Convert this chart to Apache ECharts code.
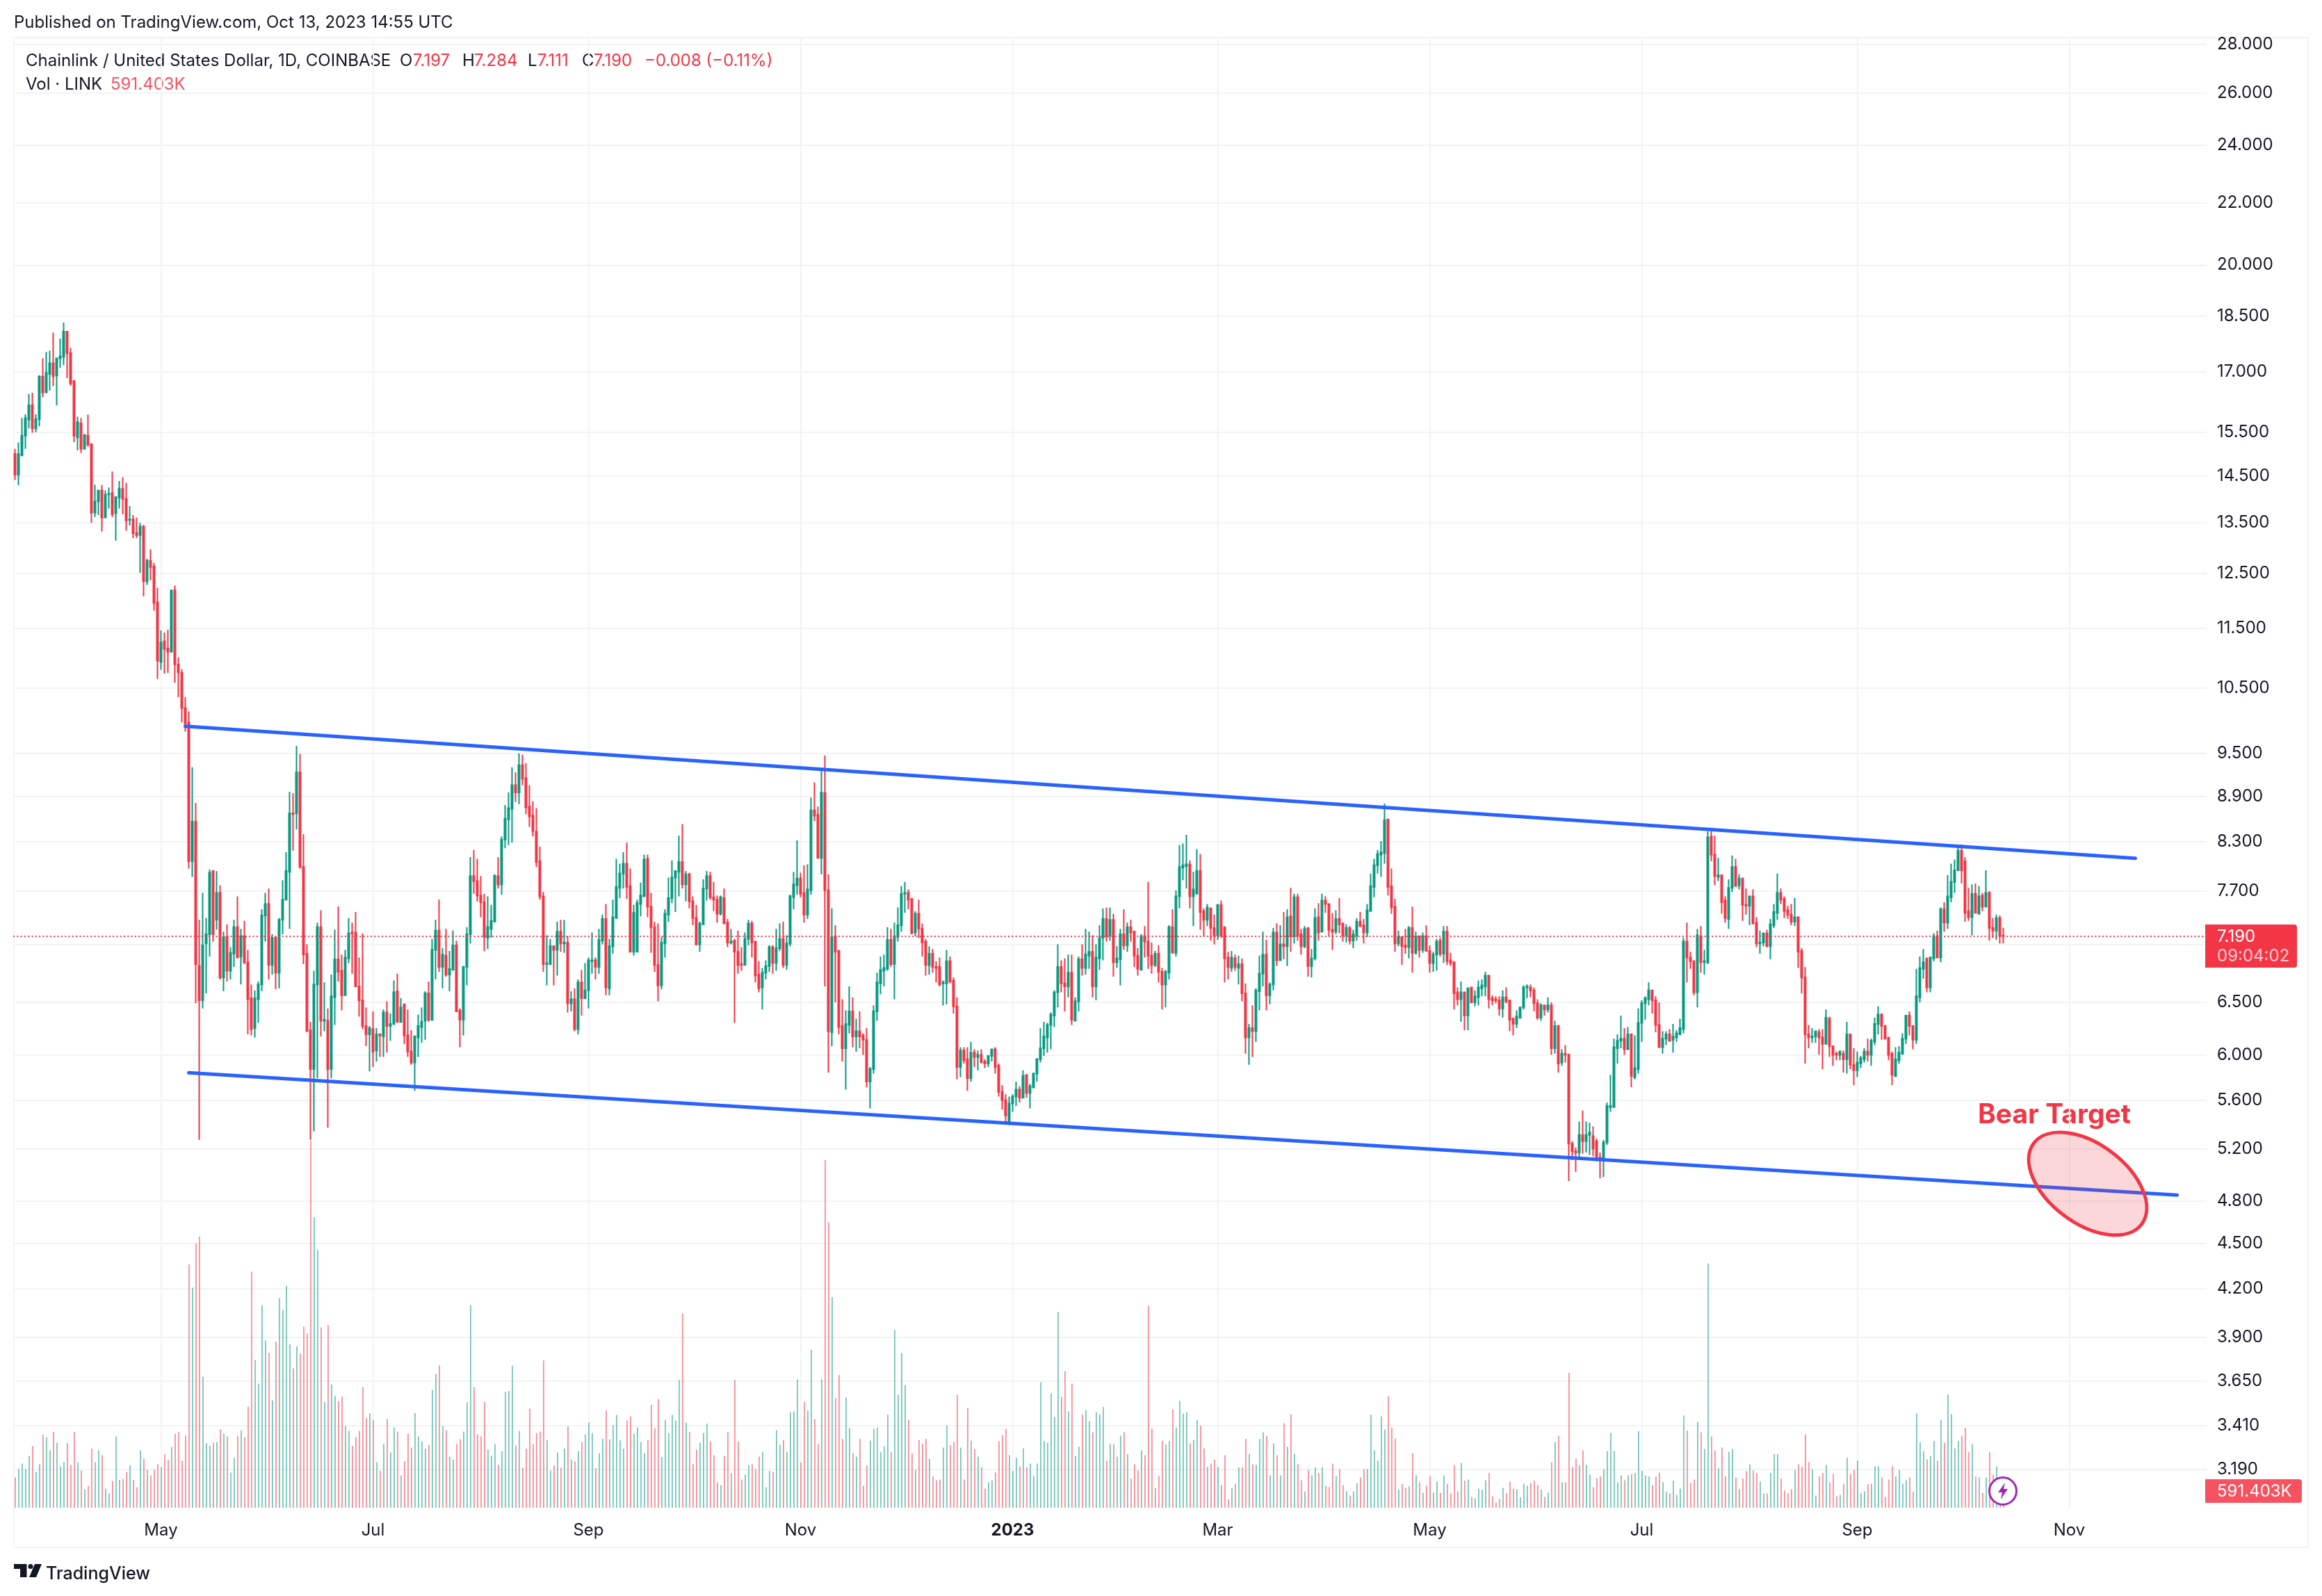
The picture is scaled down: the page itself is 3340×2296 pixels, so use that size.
<!DOCTYPE html>
<html>
<head>
<meta charset="utf-8">
<title>LINK/USD</title>
<script src="https://cdn.jsdelivr.net/npm/echarts@6/dist/echarts.min.js"></script>
<style>
  html, body { margin: 0; padding: 0; background: #fff; }
  #chart { width: 3340px; height: 2296px; }
</style>
</head>
<body>
<div id="chart"></div>
<script>
// daily candles from 2022-03-20 to 2023-10-13: [open, close, low, high]
const candles = [
[14.99,14.53,14.41,15.11],[14.53,14.99,14.30,15.26],[14.96,15.42,14.96,15.84],[15.42,15.84,15.11,15.93],[15.80,16.15,15.59,16.43],[16.15,15.59,15.49,16.46],[15.59,15.81,15.50,15.93],[15.81,16.87,15.64,16.91],
[16.87,16.47,16.35,17.35],[16.47,16.97,16.47,17.52],[16.94,17.22,16.52,17.55],[17.22,16.88,16.63,18.04],[16.90,17.35,16.15,17.35],[17.35,17.40,17.10,17.88],[17.39,18.07,17.17,18.32],[18.07,17.48,16.83,18.08],
[17.49,16.70,16.64,17.63],[16.76,15.42,15.27,16.77],[15.38,15.74,15.08,15.87],[15.71,15.11,15.02,15.84],[15.11,15.43,15.10,15.46],[15.42,15.21,15.16,15.92],[15.22,13.71,13.50,15.24],[13.71,13.95,13.62,14.31],
[13.95,14.18,13.66,14.20],[14.18,13.61,13.32,14.30],[13.61,14.09,13.60,14.18],[14.10,14.11,13.80,14.25],[14.13,13.68,13.62,14.60],[13.70,14.04,13.14,14.06],[14.03,14.22,13.80,14.39],[14.22,14.00,13.68,14.47],
[14.00,13.55,13.34,14.35],[13.56,13.57,13.44,13.85],[13.57,13.29,13.19,13.66],[13.29,13.25,13.19,13.61],[13.25,13.42,12.51,13.50],[13.42,12.35,12.07,13.46],[12.35,12.74,12.28,12.78],[12.74,12.62,12.37,12.97],
[12.63,11.95,11.81,12.70],[11.96,10.94,10.64,12.23],[10.92,11.25,10.79,11.46],[11.27,11.14,10.73,11.42],[11.15,11.09,10.74,11.47],[11.09,12.18,11.09,12.19],[12.18,10.88,10.58,12.27],[10.88,10.75,10.35,11.00],
[10.74,10.18,9.96,10.80],[10.18,9.94,9.82,10.35],[9.96,8.06,7.97,10.13],[8.06,8.56,7.87,9.30],[8.56,6.89,6.49,8.81],[6.87,6.52,5.27,7.37],[6.52,7.09,6.44,7.68],[7.11,7.21,6.59,7.39],
[7.21,7.92,6.97,7.96],[7.94,7.21,7.13,7.94],[7.37,7.68,7.26,7.94],[7.68,6.75,6.73,7.77],[6.75,7.18,6.61,7.24],[7.18,6.82,6.71,7.32],[6.82,7.01,6.73,7.07],[7.00,7.29,6.86,7.37],
[7.29,6.96,6.95,7.64],[6.97,7.19,6.68,7.27],[7.19,6.91,6.89,7.36],[6.91,6.53,6.19,7.04],[6.54,6.24,6.18,6.68],[6.25,6.54,6.16,6.62],[6.53,6.68,6.30,6.71],[6.68,7.42,6.61,7.49],
[7.42,7.55,7.13,7.68],[7.55,6.88,6.73,7.73],[6.88,7.17,6.78,7.21],[7.17,6.80,6.63,7.19],[6.80,7.37,6.64,7.39],[7.37,7.60,7.21,7.83],[7.60,7.94,7.59,8.17],[7.93,8.67,7.27,8.96],
[8.67,8.66,8.19,8.94],[8.67,9.23,8.46,9.61],[9.23,7.99,7.97,9.49],[7.99,6.99,6.89,8.40],[7.00,6.22,6.22,7.10],[6.23,5.87,5.27,6.31],[5.87,6.68,5.34,6.82],[6.68,7.29,5.79,7.34],
[7.29,6.32,6.17,7.48],[6.32,6.33,6.22,6.70],[6.32,5.87,5.37,6.44],[5.87,6.56,5.79,6.78],[6.55,6.94,6.28,7.26],[6.94,6.81,6.71,7.52],[6.82,6.57,6.42,6.99],[6.57,6.96,6.57,7.04],
[6.95,7.22,6.90,7.39],[7.23,7.22,6.79,7.34],[7.23,6.66,6.66,7.46],[6.66,6.52,6.36,6.96],[6.52,6.27,6.24,7.22],[6.27,6.19,6.08,6.45],[6.19,6.25,5.85,6.27],[6.24,6.03,5.89,6.41],
[6.04,6.19,5.94,6.25],[6.19,6.18,5.98,6.20],[6.17,6.40,5.98,6.43],[6.40,6.27,6.02,6.51],[6.27,6.29,6.13,6.39],[6.29,6.60,6.28,6.72],[6.61,6.31,6.30,6.79],[6.31,6.45,6.30,6.54],
[6.48,6.18,6.10,6.48],[6.18,6.03,5.98,6.43],[6.03,5.93,5.91,6.23],[5.93,6.17,5.68,6.18],[6.16,6.27,5.98,6.38],[6.26,6.31,6.11,6.45],[6.32,6.59,6.14,6.61],[6.59,6.33,6.31,6.71],
[6.33,7.04,6.32,7.16],[7.04,7.25,6.73,7.37],[7.25,6.86,6.81,7.60],[6.86,6.99,6.64,7.06],[6.98,6.78,6.76,7.27],[6.78,6.84,6.61,7.03],[6.83,7.09,6.83,7.25],[7.09,6.41,6.41,7.14],
[6.42,6.33,6.07,6.44],[6.33,6.86,6.18,6.87],[6.86,7.21,6.67,7.29],[7.21,7.88,7.11,8.11],[7.88,7.82,7.67,8.20],[7.82,7.65,7.58,8.09],[7.65,7.57,7.40,7.88],[7.57,7.18,7.03,7.67],
[7.17,7.29,7.05,7.64],[7.27,7.36,7.17,7.54],[7.35,7.88,7.35,7.90],[7.88,7.78,7.73,8.11],[7.78,8.33,7.66,8.37],[8.33,8.60,8.22,8.78],[8.59,8.74,8.26,8.95],[8.73,9.05,8.29,9.30],
[9.05,8.95,8.82,9.23],[8.95,9.33,8.79,9.50],[9.33,9.14,9.05,9.48],[9.15,8.75,8.66,9.36],[8.76,8.63,8.49,9.05],[8.64,8.44,8.37,8.83],[8.43,8.05,7.99,8.74],[8.06,7.64,7.60,8.24],
[7.64,6.89,6.81,7.69],[6.89,6.90,6.67,7.20],[6.89,7.08,6.88,7.16],[7.08,7.04,6.67,7.08],[7.04,7.24,6.77,7.35],[7.24,7.11,7.02,7.37],[7.11,7.12,7.01,7.37],[7.12,6.49,6.40,7.19],
[6.49,6.53,6.41,6.61],[6.53,6.24,6.22,6.64],[6.24,6.70,6.19,6.73],[6.70,6.54,6.37,6.83],[6.54,6.62,6.53,6.90],[6.62,6.93,6.44,6.96],[6.92,6.93,6.79,7.23],[6.93,6.86,6.73,6.96],
[6.86,7.15,6.79,7.27],[7.14,7.38,7.10,7.43],[7.38,6.65,6.57,7.55],[6.64,7.08,6.57,7.16],[7.08,7.40,7.00,7.60],[7.39,7.75,7.39,8.09],[7.74,7.91,7.62,8.03],[7.91,8.03,7.73,8.17],
[8.03,7.75,7.61,8.29],[7.76,7.02,7.02,7.97],[7.02,7.45,6.98,7.54],[7.02,7.56,7.02,7.60],[7.55,7.65,7.41,7.80],[7.64,8.08,7.64,8.14],[8.09,7.52,7.40,8.14],[7.52,7.29,7.01,7.68],
[7.29,6.88,6.81,7.35],[6.88,6.67,6.51,7.33],[6.67,7.12,6.63,7.18],[7.11,7.44,6.96,7.49],[7.43,7.62,7.35,7.86],[7.62,7.86,7.56,8.07],[7.86,7.94,7.46,7.95],[7.93,8.05,7.64,8.38],
[8.05,7.78,7.73,8.53],[7.78,7.90,7.58,7.94],[7.90,7.58,7.50,7.92],[7.58,7.39,7.31,7.64],[7.39,7.10,7.09,7.54],[7.10,7.33,7.02,7.35],[7.32,7.73,7.32,7.84],[7.73,7.88,7.59,7.94],
[7.88,7.63,7.60,7.93],[7.63,7.60,7.47,7.81],[7.60,7.44,7.34,7.65],[7.44,7.63,7.42,7.65],[7.62,7.33,7.33,7.73],[7.34,7.12,7.07,7.38],[7.12,7.13,7.10,7.27],[7.14,7.02,6.30,7.16],
[7.02,6.88,6.79,7.25],[6.89,6.88,6.82,7.07],[6.88,7.16,6.88,7.23],[7.16,7.33,7.09,7.37],[7.33,7.12,6.96,7.36],[7.13,6.77,6.70,7.13],[6.78,6.64,6.60,6.92],[6.65,6.80,6.43,6.85],
[6.80,6.87,6.73,6.93],[6.87,7.07,6.81,7.09],[7.07,6.90,6.79,7.09],[6.90,7.06,6.82,7.27],[7.06,7.16,7.03,7.33],[7.16,6.88,6.85,7.35],[6.88,7.11,6.83,7.20],[7.11,7.64,7.08,7.66],
[7.63,7.78,7.49,7.93],[7.77,7.85,7.66,8.32],
[7.85,7.67,7.63,7.92],[7.68,7.43,7.34,8.01],[7.43,7.72,7.38,8.02],[7.71,8.71,7.66,8.88],[8.71,8.64,8.57,9.09],[8.65,8.10,8.10,8.76],[8.10,8.95,7.90,9.25],[8.94,7.71,6.66,9.47],
[7.71,6.22,5.84,7.90],[6.21,7.18,6.08,7.50],[7.19,7.02,6.50,7.31],[7.03,6.26,6.19,7.04],[6.27,6.06,5.94,6.53],[6.06,6.29,5.69,6.42],[6.28,6.41,6.20,6.66],[6.41,6.17,6.07,6.55],
[6.17,6.22,6.03,6.34],[6.22,6.17,6.06,6.41],[6.18,6.14,6.00,6.20],[6.14,5.76,5.71,6.25],[5.76,5.87,5.53,5.89],[5.87,6.41,5.83,6.47],[6.41,6.70,6.32,6.80],[6.69,6.83,6.58,6.97],
[6.82,6.85,6.66,6.99],[6.84,7.15,6.82,7.29],[7.15,6.89,6.86,7.27],[6.89,7.19,6.53,7.34],[7.18,7.31,7.13,7.51],[7.31,7.67,7.24,7.76],[7.67,7.68,7.45,7.81],[7.68,7.60,7.49,7.72],
[7.61,7.22,7.21,7.61],[7.23,7.44,7.19,7.47],[7.44,7.27,7.17,7.60],[7.27,7.12,6.97,7.33],[7.13,6.88,6.77,7.16],[6.88,7.00,6.78,7.08],[7.00,6.86,6.80,7.05],[6.86,6.85,6.70,6.92],
[6.86,6.68,6.66,6.96],[6.69,6.70,6.47,6.72],[6.69,6.92,6.48,7.04],[6.92,6.71,6.69,6.97],[6.72,6.46,6.39,6.75],[6.46,5.89,5.78,6.55],[5.89,6.04,5.80,6.07],[6.04,5.95,5.92,6.07],
[5.96,5.79,5.68,6.07],[5.79,6.02,5.76,6.12],[6.02,5.98,5.89,6.05],[5.98,6.00,5.86,6.04],[6.00,5.93,5.93,6.05],[5.94,5.92,5.88,5.96],[5.92,5.99,5.89,5.99],[5.99,6.05,5.94,6.05],
[6.05,5.89,5.83,6.07],[5.90,5.67,5.63,5.92],[5.67,5.60,5.52,5.73],[5.60,5.47,5.41,5.65],[5.41,5.57,5.39,5.63],[5.57,5.63,5.50,5.65],[5.63,5.69,5.55,5.76],[5.69,5.62,5.58,5.72],
[5.62,5.81,5.62,5.86],[5.82,5.66,5.62,5.82],[5.66,5.72,5.53,5.74],[5.71,5.83,5.70,5.84],[5.83,5.96,5.76,5.97],[5.96,6.06,5.93,6.25],[6.06,6.17,5.99,6.31],[6.16,6.28,6.02,6.30],
[6.28,6.38,6.05,6.40],[6.37,6.60,6.26,6.62],[6.60,6.86,6.45,7.10],[6.86,6.69,6.60,6.93],[6.69,6.66,6.41,6.95],[6.66,6.80,6.55,6.99],[6.80,6.33,6.28,6.99],[6.32,6.51,6.32,6.55],
[6.51,6.94,6.41,6.97],[6.94,6.85,6.77,7.10],[6.85,6.99,6.78,7.27],[6.98,7.02,6.84,7.24],[7.02,6.66,6.55,7.20],[6.66,6.96,6.52,7.10],[6.95,7.17,6.83,7.31],[7.17,7.38,6.93,7.50],
[7.38,7.19,7.13,7.51],[7.20,7.37,7.14,7.51],[7.37,6.91,6.76,7.44],[6.91,6.95,6.85,7.08],[6.94,7.21,6.67,7.27],[7.21,7.09,7.04,7.49],[7.09,7.29,7.02,7.34],[7.29,7.23,7.13,7.37],
[7.24,6.98,6.86,7.25],[6.98,6.84,6.77,7.06],[6.83,7.19,6.83,7.21],[7.19,7.13,6.96,7.30],[7.13,6.98,6.84,7.81],[6.98,6.88,6.79,7.12],[6.88,7.00,6.86,7.03],[7.00,6.81,6.70,7.09],
[6.81,6.68,6.43,6.85],[6.68,6.81,6.45,6.83],[6.80,7.29,6.73,7.31],[7.29,7.01,7.01,7.49],[7.01,7.64,6.97,7.71],[7.64,7.99,7.50,8.26],[7.98,8.01,7.83,8.28],[8.00,8.02,7.73,8.39],
[8.02,7.64,7.50,8.07],[7.64,7.72,7.30,7.93],
[7.67,7.94,7.67,8.21],[7.94,7.46,7.26,8.15],[7.47,7.37,7.19,7.50],[7.37,7.51,7.30,7.55],[7.50,7.28,7.14,7.51],[7.28,7.20,7.10,7.43],[7.20,7.54,7.15,7.54],[7.54,7.20,7.17,7.59],
[7.29,6.95,6.70,7.29],[6.96,6.86,6.73,7.02],[6.85,6.96,6.81,7.03],[6.95,6.86,6.82,6.99],[6.85,6.89,6.68,6.98],[6.89,6.59,6.51,6.95],[6.59,6.16,6.01,6.69],[6.16,6.25,5.91,6.29],
[6.25,6.22,5.98,6.47],[6.22,6.62,6.12,6.64],[6.61,6.79,6.42,6.98],[6.79,6.99,6.66,7.24],[6.99,6.57,6.42,7.15],[6.57,6.68,6.48,6.70],[6.68,7.23,6.62,7.28],[7.23,6.93,6.87,7.33],
[6.93,7.10,6.93,7.31],[7.10,7.08,6.94,7.46],[7.08,7.40,6.87,7.49],[7.41,7.19,7.02,7.74],[7.19,7.63,7.11,7.67],[7.63,7.20,7.14,7.67],[7.21,7.08,6.99,7.27],[7.08,7.27,7.06,7.30],
[7.28,6.87,6.76,7.28],[6.87,6.95,6.75,7.05],[6.95,7.39,6.93,7.50],[7.40,7.23,7.14,7.56],[7.24,7.59,7.23,7.67],[7.59,7.55,7.45,7.64],[7.55,7.26,7.19,7.55],[7.26,7.24,7.04,7.45],
[7.24,7.38,7.21,7.48],[7.38,7.32,7.22,7.62],[7.33,7.20,7.13,7.34],[7.20,7.28,7.12,7.32],[7.28,7.14,7.10,7.30],[7.14,7.21,7.06,7.26],[7.20,7.35,7.14,7.39],[7.35,7.30,7.29,7.46],
[7.31,7.23,7.11,7.38],[7.23,7.48,7.18,7.55],[7.47,7.76,7.47,7.91],[7.75,8.01,7.63,8.09],[8.01,8.15,7.91,8.20],[8.14,8.17,7.87,8.31],[8.16,8.58,8.03,8.80],[8.59,7.75,7.65,8.60],
[7.76,7.51,7.44,7.97],[7.52,7.11,7.02,7.61],[7.11,7.18,7.08,7.25],[7.18,7.08,6.88,7.18],[7.09,7.07,7.00,7.27],[7.07,7.28,6.95,7.30],[7.28,7.01,6.80,7.52],[7.01,7.18,6.99,7.24],
[7.19,7.04,6.96,7.19],[7.04,7.19,7.01,7.23],[7.19,7.03,7.03,7.31],[7.03,6.90,6.80,7.09],[6.90,6.99,6.81,7.02],[6.99,7.13,6.82,7.16],[7.14,7.00,6.97,7.17],[7.00,7.24,6.90,7.30],
[7.24,6.92,6.88,7.30],[6.93,6.90,6.87,7.01],[6.91,6.59,6.43,6.92],[6.60,6.53,6.47,6.65],[6.53,6.60,6.31,6.71],[6.60,6.37,6.23,6.60],[6.37,6.64,6.23,6.65],[6.65,6.50,6.49,6.65],
[6.50,6.56,6.46,6.62],[6.55,6.65,6.47,6.72],[6.64,6.67,6.56,6.73],[6.66,6.77,6.56,6.81],[6.77,6.53,6.44,6.77],[6.54,6.52,6.47,6.57],[6.53,6.52,6.49,6.56],[6.52,6.44,6.37,6.56],
[6.44,6.55,6.35,6.62],[6.55,6.51,6.49,6.65],[6.52,6.33,6.22,6.52],[6.34,6.29,6.18,6.35],[6.29,6.36,6.25,6.42],[6.35,6.45,6.34,6.45],[6.45,6.65,6.43,6.67],[6.65,6.66,6.54,6.68],
[6.65,6.62,6.55,6.68],[6.62,6.49,6.41,6.65],[6.49,6.35,6.33,6.53],[6.35,6.47,6.32,6.49],[6.47,6.43,6.37,6.47],[6.43,6.47,6.40,6.55],[6.47,6.06,6.00,6.50],[6.06,6.27,6.01,6.32],
[6.27,5.92,5.84,6.28],[5.93,6.01,5.90,6.05],[6.01,6.00,5.93,6.09],[6.00,5.24,4.95,6.01],[5.24,5.18,5.11,5.26],[5.18,5.17,5.02,5.21],[5.17,5.31,5.13,5.42],[5.31,5.26,5.16,5.51],
[5.26,5.31,5.17,5.42],[5.31,5.33,5.15,5.41],
[5.30,5.20,5.14,5.38],[5.26,5.13,5.10,5.28],[5.13,5.11,4.97,5.17],[5.11,5.25,4.98,5.27],[5.25,5.55,5.23,5.58],[5.54,5.55,5.50,5.82],[5.54,6.07,5.54,6.15],[6.06,6.13,5.92,6.19],
[6.13,6.15,6.06,6.37],[6.15,6.05,6.00,6.25],[6.05,6.19,6.05,6.26],[6.19,5.81,5.71,6.20],[5.80,5.88,5.78,6.18],[5.87,6.30,5.83,6.44],[6.30,6.49,6.12,6.52],[6.49,6.54,6.33,6.56],
[6.53,6.62,6.47,6.70],[6.62,6.52,6.39,6.62],[6.52,6.28,6.21,6.56],[6.28,6.07,6.07,6.50],[6.07,6.15,6.01,6.22],[6.15,6.19,6.09,6.22],[6.19,6.13,6.12,6.24],[6.14,6.17,6.02,6.29],
[6.16,6.20,6.12,6.23],[6.19,6.25,6.19,6.34],[6.24,7.13,6.20,7.17],[7.13,6.96,6.70,7.34],[6.96,6.92,6.84,7.02],[6.92,6.60,6.57,6.93],[6.60,7.20,6.45,7.27],[7.19,6.91,6.80,7.30],
[6.91,6.92,6.78,7.04],[6.91,8.36,6.89,8.44],[8.37,8.14,8.06,8.45],[8.14,7.88,7.77,8.38],[7.87,7.89,7.82,8.10],[7.89,7.57,7.44,7.89],[7.59,7.39,7.34,7.64],[7.38,7.74,7.27,7.84],
[7.74,7.99,7.69,8.13],[7.99,7.76,7.76,8.09],[7.77,7.85,7.72,7.90],[7.85,7.54,7.36,7.86],[7.54,7.53,7.43,7.73],[7.53,7.64,7.31,7.65],[7.64,7.33,7.32,7.72],[7.34,7.11,7.07,7.40],
[7.11,7.12,7.00,7.25],[7.12,7.22,7.08,7.23],[7.22,7.08,7.07,7.26],[7.08,7.32,6.94,7.38],[7.31,7.46,7.28,7.55],[7.45,7.68,7.37,7.91],[7.68,7.60,7.55,7.73],[7.61,7.47,7.39,7.64],
[7.48,7.43,7.38,7.53],[7.43,7.35,7.31,7.55],[7.35,7.40,7.30,7.62],[7.40,7.02,6.85,7.41],[7.03,6.75,6.59,7.06],[6.75,6.19,5.92,6.86],[6.19,6.16,6.06,6.28],[6.16,6.17,6.11,6.25],
[6.17,6.22,6.11,6.22],[6.21,6.16,6.00,6.24],[6.16,6.10,5.87,6.24],[6.10,6.35,6.10,6.43],[6.34,6.08,5.98,6.36],[6.08,6.00,5.90,6.08],[6.01,6.00,5.95,6.03],[6.00,6.03,5.95,6.04],
[6.01,5.96,5.84,6.04],[5.96,6.19,5.83,6.31],[6.19,5.91,5.87,6.19],[5.91,5.86,5.73,6.06],[5.86,5.93,5.80,6.03],[5.92,5.97,5.88,5.99],[5.96,6.03,5.93,6.06],[6.03,6.00,5.94,6.15],
[6.00,6.13,5.90,6.15],[6.12,6.29,6.09,6.35],[6.29,6.38,6.19,6.46],[6.38,6.27,6.14,6.39],[6.27,6.15,6.15,6.28],[6.16,6.00,5.95,6.16],[6.01,5.82,5.73,6.03],[5.81,5.96,5.80,6.07],
[5.95,6.02,5.92,6.08],[6.01,6.15,6.00,6.20],[6.15,6.37,6.10,6.37],[6.37,6.27,6.18,6.41],[6.27,6.14,6.05,6.27],[6.14,6.56,6.10,6.84],[6.55,6.85,6.50,6.97],[6.84,6.91,6.74,7.05],
[6.95,6.65,6.60,6.95],[6.65,6.96,6.60,6.97],[6.95,7.19,6.92,7.22],[7.19,6.96,6.96,7.25],[6.96,7.49,6.91,7.51],[7.49,7.34,7.24,7.57],[7.34,7.64,7.27,7.89],[7.63,7.81,7.57,8.03],
[7.81,7.95,7.68,8.08],[7.95,8.19,7.95,8.27],[8.19,7.95,7.79,8.27],[8.06,7.45,7.35,8.11],[7.47,7.40,7.36,7.74],[7.40,7.67,7.20,7.78],[7.67,7.45,7.45,7.79],[7.44,7.64,7.43,7.76],
[7.65,7.52,7.47,7.68],[7.52,7.68,7.51,7.95],[7.68,7.28,7.14,7.70],[7.28,7.25,7.17,7.39],[7.25,7.39,7.15,7.43],[7.39,7.19,7.11,7.42],[7.197,7.19,7.111,7.284]
];
// daily volume, in tens of thousands of LINK
const volumes = [
87,111,127,111,149,178,103,125,210,203,165,218,187,119,131,186,123,218,131,107,53,63,170,131,165,151,55,41,77,205,80,83,103,122,80,59,165,141,109,93,
109,125,117,154,138,175,213,218,135,208,700,633,761,780,377,186,178,187,189,226,213,205,101,143,207,223,203,291,679,425,357,582,481,446,309,478,603,569,639,470,
401,464,443,521,502,1056,836,741,519,304,526,355,322,307,320,235,221,178,203,221,347,258,272,253,131,106,183,255,159,231,219,93,134,213,173,272,205,191,170,181,
339,385,409,235,223,147,138,183,197,219,304,583,347,211,205,304,167,149,183,123,163,333,336,409,179,221,115,170,285,183,215,219,424,194,107,122,159,115,170,234,
138,133,163,189,211,245,215,114,157,199,280,197,237,267,194,170,251,263,213,231,189,157,195,296,229,313,146,253,215,267,251,368,559,245,218,125,167,187,215,242,
191,151,73,65,149,218,99,368,191,81,95,122,125,111,147,161,59,106,103,223,181,195,161,275,277,369,130,305,280,454,255,183,369,1000,821,606,
315,382,198,317,230,157,147,198,63,122,193,227,230,160,177,268,160,511,325,445,353,253,157,109,195,184,198,141,90,79,81,173,236,180,189,325,173,81,287,193,
169,147,116,55,73,79,101,192,209,227,151,106,144,119,171,116,127,91,127,361,192,187,329,261,563,319,393,277,357,149,176,268,281,249,217,275,268,290,135,183,
183,147,207,217,154,84,125,107,165,151,581,227,57,91,193,182,192,283,231,307,271,275,185,195,253,236,171,117,127,138,117,65,151,24,57,69,116,116,198,155,
125,123,198,217,207,93,185,151,93,243,176,269,155,125,79,47,109,93,116,100,116,63,59,127,91,111,65,47,35,47,71,87,111,111,268,165,135,263,225,321,
230,199,52,68,57,62,157,93,73,43,63,91,43,75,43,93,68,41,123,47,129,78,81,31,27,55,52,79,100,33,15,25,57,41,75,55,53,30,69,63,
71,78,65,52,31,43,131,189,207,73,73,388,117,141,122,165,123,95,59,85,
90,111,163,215,163,73,93,79,93,97,100,220,106,93,90,65,90,101,73,46,41,78,37,55,265,222,71,81,247,217,169,703,205,165,113,173,90,161,169,87,
53,84,106,125,107,100,75,41,41,100,154,154,85,49,41,53,109,125,117,211,131,111,35,90,100,123,73,97,33,37,68,144,97,109,135,41,47,68,69,119,
119,87,31,81,119,90,109,69,79,87,46,271,189,163,139,149,192,135,253,187,325,269,171,192,207,230,160,183,90,87,43,87,160,95,119,63,59.14
];
const priceTicks = [28, 26, 24, 22, 20, 18.5, 17, 15.5, 14.5, 13.5, 12.5, 11.5, 10.5, 9.5, 8.9, 8.3, 7.7, 7.1, 6.5, 6, 5.6, 5.2, 4.8, 4.5, 4.2, 3.9, 3.65, 3.41, 3.19];
const priceLabels = priceTicks.filter(v => v !== 7.1);
const monthLabels = {
  '2022-05-01': 'May', '2022-07-01': 'Jul', '2022-09-01': 'Sep', '2022-11-01': 'Nov',
  '2023-01-01': '2023', '2023-03-01': 'Mar', '2023-05-01': 'May', '2023-07-01': 'Jul',
  '2023-09-01': 'Sep', '2023-11-01': 'Nov'
};
const upperChannel = [['2022-05-08', 9.9], ['2023-11-20', 8.095]];
const lowerChannel = [['2022-05-09', 5.838], ['2023-12-02', 4.845]];
const targetCentre = [['2023-11-06', 4.93]];
const lastPrice = 7.19;

const UP = '#089981';
const DOWN = '#f23645';
const GRID = '#f2f3f5';
const INK = '#131722';
const FONT = 'Inter';

// 631 daily slots, the chart keeps running past the last candle
const days = [];
for (let i = 0; i < 631; i++) {
  days.push(new Date(Date.UTC(2022, 2, 20 + i)).toISOString().slice(0, 10));
}

const volumeBars = volumes.map((v, i) => ({
  value: v,
  itemStyle: { color: candles[i][1] >= candles[i][0] ? 'rgba(8,153,129,0.5)' : 'rgba(242,54,69,0.5)' }
}));

function label(text, x, y, color, extra) {
  return {
    type: 'text', x: x, y: y, silent: true,
    style: Object.assign({ text: text, fill: color, font: '24px ' + FONT, textVerticalAlign: 'middle' }, extra || {})
  };
}

const graphic = [
  { type: 'rect', silent: true, z: 0, shape: { x: 20, y: 54, width: 3300, height: 2172 }, style: { fill: 'none', stroke: GRID, lineWidth: 2 } },
  label('Published on TradingView.com, Oct 13, 2023 14:55 UTC', 20, 33, INK),
  label('Chainlink / United States Dollar, 1D, COINBASE', 37, 88, INK),
  label('O', 575, 88, INK), label('7.197', 594, 88, DOWN),
  label('H', 665, 88, INK), label('7.284', 682, 88, DOWN),
  label('L', 759, 88, INK), label('7.111', 773, 88, DOWN),
  label('C', 837, 88, INK), label('7.190', 854, 88, DOWN),
  label('\u22120.008 (\u22120.11%)', 927, 88, DOWN),
  label('Vol \u00b7 LINK', 37, 122, INK),
  label('591.403K', 159, 122, '#f7525f'),
  label('Bear Target', 2845, 1604, DOWN, { font: 'bold 39px ' + FONT }),
  // price and volume tags
  { type: 'rect', silent: true, z: 20, shape: { x: 3172, y: 1330, width: 132, height: 62, r: [0, 4, 4, 0] }, style: { fill: DOWN } },
  Object.assign(label('7.190', 3189, 1348, '#fff'), { z: 21 }),
  Object.assign(label('09:04:02', 3189, 1376, 'rgba(255,255,255,0.75)'), { z: 21 }),
  { type: 'rect', silent: true, z: 20, shape: { x: 3172, y: 2128, width: 139, height: 34, r: [0, 4, 4, 0] }, style: { fill: '#f7525f' } },
  Object.assign(label('591.403K', 3189, 2146, '#fff'), { z: 21 }),
  // flash icon on the last bar
  { type: 'circle', silent: true, z: 20, shape: { cx: 2881, cy: 2145, r: 19.5 }, style: { fill: '#fff', stroke: '#9c27b0', lineWidth: 3 } },
  { type: 'polygon', silent: true, z: 21, shape: { points: [[2884, 2133], [2874, 2147], [2880, 2147], [2878, 2157], [2888, 2142], [2882, 2142]] }, style: { fill: '#9c27b0' } },
  // TradingView logo
  { type: 'polygon', silent: true, shape: { points: [[20, 2250], [38.5, 2250], [38.5, 2269], [29, 2269], [29, 2257], [20, 2257]] }, style: { fill: INK } },
  { type: 'circle', silent: true, shape: { cx: 44, cy: 2253.5, r: 3.5 }, style: { fill: INK } },
  { type: 'polygon', silent: true, shape: { points: [[50, 2250], [60, 2250], [52, 2269], [42, 2269]] }, style: { fill: INK } },
  label('TradingView', 66, 2264, INK, { font: '500 25px ' + FONT })
];

const chart = echarts.init(document.getElementById('chart'), null, { renderer: 'canvas' });

chart.setOption({
  animation: false,
  backgroundColor: '#fff',
  textStyle: { fontFamily: FONT },
  grid: [
    { left: 19, top: 54, width: 3155, height: 2116 },
    { left: 19.5, top: 54, width: 3155, height: 2115 }
  ],
  xAxis: [
    {
      type: 'category', gridIndex: 0, data: days, boundaryGap: true,
      axisLine: { show: false },
      axisTick: { show: false },
      axisLabel: {
        interval: (i, v) => v in monthLabels,
        formatter: v => (v === '2023-01-01' ? '{year|2023}' : monthLabels[v]),
        color: INK, fontSize: 24, fontFamily: FONT, margin: 20,
        rich: { year: { fontWeight: 'bold', fontSize: 24, color: INK, fontFamily: FONT } }
      },
      splitLine: {
        show: true, alignWithLabel: true,
        interval: (i, v) => v in monthLabels,
        lineStyle: { color: GRID, width: 2 }
      }
    },
    { type: 'category', gridIndex: 1, data: days, show: false }
  ],
  yAxis: [
    {
      type: 'log', gridIndex: 0, position: 'right', min: 3.005, max: 28.29, logBase: 10,
      axisLine: { show: false },
      axisTick: { show: false, customValues: priceTicks },
      axisLabel: {
        customValues: priceLabels,
        formatter: v => Number(v).toFixed(3),
        color: INK, fontSize: 24, fontFamily: FONT, margin: 15, padding: [4, 0, 0, 0]
      },
      splitLine: { show: true, lineStyle: { color: GRID, width: 2 } }
    },
    { type: 'value', gridIndex: 1, min: 0, max: 4230, show: false, splitLine: { show: false } }
  ],
  series: [
    {
      name: 'Vol', type: 'bar', xAxisIndex: 1, yAxisIndex: 1, data: volumeBars,
      barWidth: 2, silent: true, z: 1
    },
    {
      name: 'LINK', type: 'candlestick', xAxisIndex: 0, yAxisIndex: 0, data: candles,
      barWidth: 2, silent: true, z: 3,
      itemStyle: { color: UP, color0: DOWN, borderColor: UP, borderColor0: DOWN, borderWidth: 2 },
      markLine: {
        silent: true, symbol: ['none', 'none'], label: { show: false },
        lineStyle: { color: DOWN, type: [2, 3.3], width: 2 },
        data: [{ yAxis: lastPrice }]
      }
    },
    {
      type: 'line', xAxisIndex: 0, yAxisIndex: 0, data: upperChannel, showSymbol: false, silent: true, z: 5,
      lineStyle: { color: '#2962ff', width: 5, cap: 'round' }
    },
    {
      type: 'line', xAxisIndex: 0, yAxisIndex: 0, data: lowerChannel, showSymbol: false, silent: true, z: 5,
      lineStyle: { color: '#2962ff', width: 5, cap: 'round' }
    },
    {
      type: 'custom', xAxisIndex: 0, yAxisIndex: 0, data: targetCentre, silent: true, z: 6,
      encode: { x: 0, y: 1 },
      renderItem: (params, api) => {
        const c = api.coord([api.value(0), api.value(1)]);
        return {
          type: 'ellipse', x: c[0] + 1.5, y: c[1], rotation: -0.642,
          shape: { cx: 0, cy: 0, rx: 97, ry: 57 },
          style: { fill: 'rgba(242,54,69,0.2)', stroke: DOWN, lineWidth: 5 }
        };
      }
    }
  ],
  graphic: graphic
});
</script>
</body>
</html>
